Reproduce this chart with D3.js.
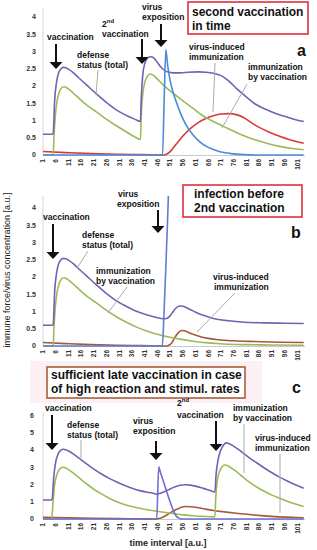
<!DOCTYPE html>
<html><head><meta charset="utf-8">
<script src="https://cdn.jsdelivr.net/npm/d3@7"></script>
<style>
body{margin:0;background:#fff}
svg{display:block}
text{font-family:"Liberation Sans",Arial,Helvetica,sans-serif}
</style>
</head><body>
<script>
// ---------- data ----------
const timeTicks = [1,6,11,16,21,26,31,36,41,46,51,56,61,66,71,76,81,86,91,96,101];
const yTicksAB = [0,0.5,1,1.5,2,2.5,3,3.5,4];
const yTicksC = [0,1,2,3,4,5,6];

// panel a
const purpleA = [[1,0.6],[4.6,0.6],[5,0.62],[5.6,1.6],[6.3,2.1],[7,2.35],[8,2.49],[9,2.54],[10,2.53],[11,2.49],[13,2.38],[15,2.24],[18,2.04],[22,1.77],[26,1.52],[30,1.3],[34,1.14],[37,1.04],[39.3,0.97],[39.6,1.6],[40.2,2.3],[41,2.65],[42,2.8],[43,2.85],[44,2.84],[45,2.78],[46,2.68],[47,2.58],[48,2.5],[49,2.44],[50,2.41],[52,2.38],[55,2.38],[58,2.4],[62,2.41],[65,2.4],[68,2.37],[71,2.3],[74,2.15],[77,1.93],[80,1.74],[84,1.5],[88,1.34],[92,1.22],[96,1.12],[100,1.03],[103.5,0.97]];
const greenA = [[1,0],[5,0],[5.3,0.5],[5.8,1.1],[6.5,1.55],[7.3,1.8],[8.3,1.94],[9.3,1.98],[10.3,1.95],[12,1.85],[14,1.72],[17,1.52],[20,1.35],[22,1.25],[26,1.03],[30,0.84],[34,0.66],[37,0.53],[39.3,0.45],[39.6,1.1],[40.2,1.75],[41,2.1],[42,2.28],[43,2.35],[44,2.33],[46,2.2],[49,1.98],[52,1.8],[56,1.57],[60,1.35],[64,1.13],[68,0.97],[72,0.83],[76,0.69],[80,0.56],[84,0.45],[88,0.36],[92,0.28],[96,0.22],[100,0.18],[103.5,0.15]];
const redA = [[1,0.1],[10,0.07],[20,0.04],[30,0.02],[40,0.01],[48.5,0],[49.5,0.02],[51,0.1],[53,0.28],[56,0.55],[59,0.77],[62,0.94],[65,1.06],[68,1.14],[71,1.19],[74,1.2],[77,1.17],[80,1.08],[83,0.93],[86,0.8],[90,0.66],[94,0.54],[98,0.44],[103.5,0.34]];
const blueA = [[1,0],[48,0],[48.6,1.5],[49.3,3.05],[50,2.6],[51,2.15],[52,1.85],[53,1.62],[55,1.22],[57,0.9],[60,0.58],[63,0.36],[66,0.22],[70,0.11],[75,0.04],[80,0.01],[84,0],[103.5,0]];

// panel b
const purpleB = [[1,0.6],[4.6,0.6],[5,0.62],[5.6,1.6],[6.3,2.1],[7,2.35],[8,2.49],[9,2.54],[10,2.53],[11,2.49],[13,2.38],[15,2.24],[18,2.04],[22,1.77],[26,1.52],[30,1.3],[34,1.14],[38,1.0],[42,0.9],[46,0.82],[48,0.79],[49,0.79],[50,0.81],[51,0.88],[52,0.98],[53,1.08],[54,1.14],[55,1.16],[56,1.15],[58,1.09],[61,0.98],[64,0.89],[67,0.82],[70,0.77],[74,0.73],[80,0.69],[88,0.67],[96,0.66],[103.5,0.65]];
const greenB = [[1,0],[5,0],[5.3,0.5],[5.8,1.1],[6.5,1.55],[7.3,1.8],[8.3,1.94],[9.3,1.98],[10.3,1.95],[12,1.85],[14,1.72],[17,1.52],[20,1.35],[22,1.25],[26,1.03],[30,0.84],[34,0.68],[38,0.54],[42,0.43],[46,0.34],[50,0.27],[55,0.2],[60,0.14],[66,0.09],[72,0.06],[80,0.04],[90,0.03],[103.5,0.02]];
const brownB = [[1,0.1],[10,0.07],[20,0.04],[30,0.02],[40,0.01],[49.5,0],[50.5,0.02],[51.5,0.08],[52.5,0.2],[53.5,0.32],[54.5,0.41],[55.5,0.45],[56.5,0.44],[58,0.4],[60,0.34],[63,0.27],[66,0.22],[70,0.18],[76,0.15],[84,0.13],[94,0.11],[103.5,0.1]];
const blueB = [[1,0],[47.9,0],[48.6,1.0],[49.3,2.3],[49.9,3.5],[50.4,4.6]];

// panel c
const purpleC = [[1,1.1],[4.2,1.1],[4.6,1.15],[5.2,2.4],[6,3.3],[7,3.78],[8,3.97],[9,4.03],[10,4.0],[11,3.93],[13,3.75],[15,3.53],[18,3.2],[21,2.88],[24,2.6],[27,2.35],[30,2.14],[33,1.95],[36,1.78],[39,1.64],[42,1.55],[44,1.5],[45.8,1.44],[47,1.48],[49,1.6],[51,1.74],[53,1.86],[55,1.95],[57,1.98],[59,1.96],[61,1.9],[64,1.77],[67,1.63],[68.6,1.56],[69,2.5],[69.8,3.4],[70.8,3.95],[72,4.28],[73,4.4],[74,4.37],[76,4.2],[79,3.9],[82,3.55],[85,3.25],[88,2.95],[91,2.67],[94,2.42],[97,2.2],[100,2.0],[103.5,1.78]];
const greenC = [[1,0],[4.4,0],[4.9,0.9],[5.5,1.9],[6.4,2.55],[7.5,2.88],[8.8,2.99],[10,2.95],[12,2.75],[15,2.4],[18,2.05],[21,1.72],[24,1.45],[27,1.2],[30,1.0],[33,0.84],[36,0.72],[39,0.62],[42,0.53],[45,0.46],[48,0.4],[52,0.32],[56,0.24],[60,0.19],[64,0.15],[68.6,0.12],[68.9,1.2],[69.5,2.2],[70.4,2.75],[71.4,3.02],[72.5,3.12],[74,3.05],[76,2.85],[79,2.5],[82,2.15],[85,1.85],[88,1.6],[91,1.38],[94,1.2],[97,1.03],[100,0.88],[103.5,0.72]];
const brownC = [[1,0.1],[10,0.07],[20,0.04],[30,0.02],[40,0.01],[45.5,0],[47,0.04],[49,0.17],[51,0.35],[53,0.52],[55,0.65],[57,0.72],[59,0.71],[62,0.65],[65,0.57],[68,0.49],[72,0.42],[76,0.35],[80,0.29],[84,0.23],[88,0.18],[92,0.14],[96,0.11],[100,0.09],[103.5,0.07]];
const blueC = [[1,0],[45.7,0],[46.5,3.02],[47,2.78],[48,2.32],[49,1.87],[50,1.42],[51,0.98],[52,0.58],[53,0.26],[54,0.08],[55,0.02],[56,0],[103.5,0]];

// ---------- drawing ----------
const W = 317, H = 550;
const svg = d3.select("body").append("svg").attr("width", W).attr("height", H);

const x = d3.scaleLinear().domain([1, 104]).range([43, 305]);

const C = {purple:"#7460b4", green:"#9bbb59", red:"#d83a3a", brown:"#a5583a",
           blueA:"#4a8ad6", blueB:"#5b7fd2", blueC:"#6d6dd4"};

// faint pink halo behind panel-c title
svg.append("rect").attr("x", 30).attr("y", 361).attr("width", 232).attr("height", 42).attr("fill", "#fcf0f4");

const panels = [
  {id:"a", y: d3.scaleLinear().domain([0, 4.25]).range([155, 155 - 4.25*34.5]), ticks: yTicksAB,
   series: [[redA, C.red], [greenA, C.green], [purpleA, C.purple], [blueA, C.blueA]]},
  {id:"b", y: d3.scaleLinear().domain([0, 4.35]).range([346, 346 - 4.35*34.5]), ticks: yTicksAB,
   series: [[brownB, C.brown], [greenB, C.green], [purpleB, C.purple], [blueB, C.blueB]]},
  {id:"c", y: d3.scaleLinear().domain([0, 6.2]).range([519, 519 - 6.2*17.3]), ticks: yTicksC,
   series: [[brownC, C.brown], [greenC, C.green], [purpleC, C.purple], [blueC, C.blueC]]}
];

panels.forEach(p => {
  const g = svg.append("g");
  const y0 = p.y(0), yTop = p.y(p.y.domain()[1]);
  svg.append("clipPath").attr("id", "clip" + p.id).append("rect")
    .attr("x", x.range()[0]).attr("y", yTop).attr("width", x.range()[1] - x.range()[0] + 2).attr("height", y0 - yTop + 2);
  g.append("line").attr("x1", x(1)).attr("x2", x(1)).attr("y1", yTop).attr("y2", y0)
    .attr("stroke", "#d4d4d4").attr("stroke-width", 1);
  g.append("line").attr("x1", x(1)).attr("x2", x.range()[1]).attr("y1", y0 + 0.5).attr("y2", y0 + 0.5)
    .attr("stroke", "#c5cad6").attr("stroke-width", 1);
  g.selectAll(".yt").data(p.ticks).join("text")
    .attr("x", p.id === "c" ? 34 : 36).attr("y", d => p.y(d)).attr("dy", "0.35em")
    .attr("text-anchor", "end").attr("font-size", 7).attr("font-weight", "bold").attr("fill", "#333")
    .text(d => String(d));
  g.selectAll(".xt").data(timeTicks).join("text")
    .attr("transform", d => `translate(${x(d)},${y0 + 4}) rotate(-90)`)
    .attr("text-anchor", "end").attr("dy", "0.35em")
    .attr("font-size", 6.5).attr("font-weight", "bold").attr("fill", "#333")
    .text(d => d);
  const line = d3.line().x(d => x(d[0])).y(d => p.y(d[1])).curve(d3.curveMonotoneX);
  const sg = g.append("g").attr("clip-path", `url(#clip${p.id})`);
  p.series.forEach(([data, col]) => {
    sg.append("path").datum(data).attr("d", line).attr("fill", "none")
      .attr("stroke", col).attr("stroke-width", 1.6).attr("stroke-linejoin", "round");
  });
});

// ---------- annotations ----------
const ann = svg.append("g").attr("font-weight", "bold").attr("font-size", 8.5).attr("fill", "#111");
function txt(t, xx, yy, opts = {}) {
  const e = ann.append("text").attr("x", xx).attr("y", yy).text(t);
  if (opts.size) e.attr("font-size", opts.size);
  if (opts.anchor) e.attr("text-anchor", opts.anchor);
  return e;
}
function sup(xx, yy) {
  const e = ann.append("text").attr("x", xx).attr("y", yy);
  e.append("tspan").text("2");
  e.append("tspan").attr("font-size", 6).attr("dy", -4).text("nd");
}
function arrow(xx, y1, y2) {
  ann.append("line").attr("x1", xx).attr("x2", xx).attr("y1", y1).attr("y2", y2 - 6)
    .attr("stroke", "#111").attr("stroke-width", 2);
  ann.append("path").attr("d", `M${xx - 6.5},${y2 - 7}L${xx + 6.5},${y2 - 7}L${xx},${y2}Z`).attr("fill", "#111");
}
function leader(x1, y1, x2, y2) {
  ann.append("line").attr("x1", x1).attr("y1", y1).attr("x2", x2).attr("y2", y2)
    .attr("stroke", "#aaa").attr("stroke-width", 1);
}
function box(xx, yy, w, h, col) {
  ann.append("rect").attr("x", xx).attr("y", yy).attr("width", w).attr("height", h)
    .attr("fill", "#fff").attr("stroke", col).attr("stroke-width", 1.6);
}

// panel a
box(188, 2, 120, 32, "#e0303c");
txt("second vaccination", 192, 16, {size: 12});
txt("in time", 192, 30, {size: 12});
txt("a", 297, 56, {size: 16});
txt("vaccination", 47, 40); arrow(56, 44, 69);
sup(102, 27); txt("vaccination", 102, 37); arrow(142, 39, 64);
txt("defense", 77, 58); txt("status (total)", 77, 68); leader(98, 70, 96, 95);
txt("virus", 142, 10); txt("exposition", 142, 20); arrow(161, 24, 47);
txt("virus-induced", 189, 50); txt("immunization", 189, 60); leader(215, 63, 213, 112);
txt("immunization", 248, 70); txt("by vaccination", 248, 80); leader(247, 84, 222, 128);

// panel b
box(183, 185, 119, 32, "#e0303c");
txt("infection before", 194, 198, {size: 12});
txt("2nd vaccination", 194, 212, {size: 12});
txt("b", 291, 238, {size: 16});
txt("vaccination", 43, 220); arrow(53, 224, 259);
txt("defense", 82, 238); txt("status (total)", 82, 248); leader(88, 251, 77, 268);
txt("immunization", 96, 274); txt("by vaccination", 96, 284); leader(127, 287, 108, 313);
txt("virus", 118, 197); txt("exposition", 117, 207); arrow(158, 210, 233);
txt("virus-induced", 213, 280); txt("immunization", 214, 290); leader(235, 293, 197, 332);

// panel c
box(47, 367, 198, 31, "#a5603a");
txt("sufficient late vaccination in case", 51, 379, {size: 12});
txt("of high reaction and stimul. rates", 51, 393, {size: 12});
txt("c", 292, 393, {size: 16});
txt("vaccination", 45, 411); arrow(52, 415, 450);
txt("defense", 67, 428); txt("status (total)", 67, 438); leader(81, 440, 81, 458);
txt("virus", 133, 424); txt("exposition", 133, 434); arrow(156, 441, 460);
sup(177, 406); txt("vaccination", 177, 418); arrow(216, 421, 451);
txt("immunization", 233, 411); txt("by vaccination", 233, 421); leader(244, 424, 244, 473);
txt("virus-induced", 255, 441); txt("immunization", 255, 451); leader(280, 454, 280, 513);

// axis titles
svg.append("text").attr("transform", "translate(10,270) rotate(-90)").attr("text-anchor", "middle")
  .attr("font-size", 9).attr("fill", "#222").text("immune force/virus concentration [a.u.]");
svg.append("text").attr("x", 168).attr("y", 546).attr("text-anchor", "middle")
  .attr("font-size", 9).attr("font-weight", "bold").attr("fill", "#222").text("time interval [a.u.]");
</script>
</body></html>
